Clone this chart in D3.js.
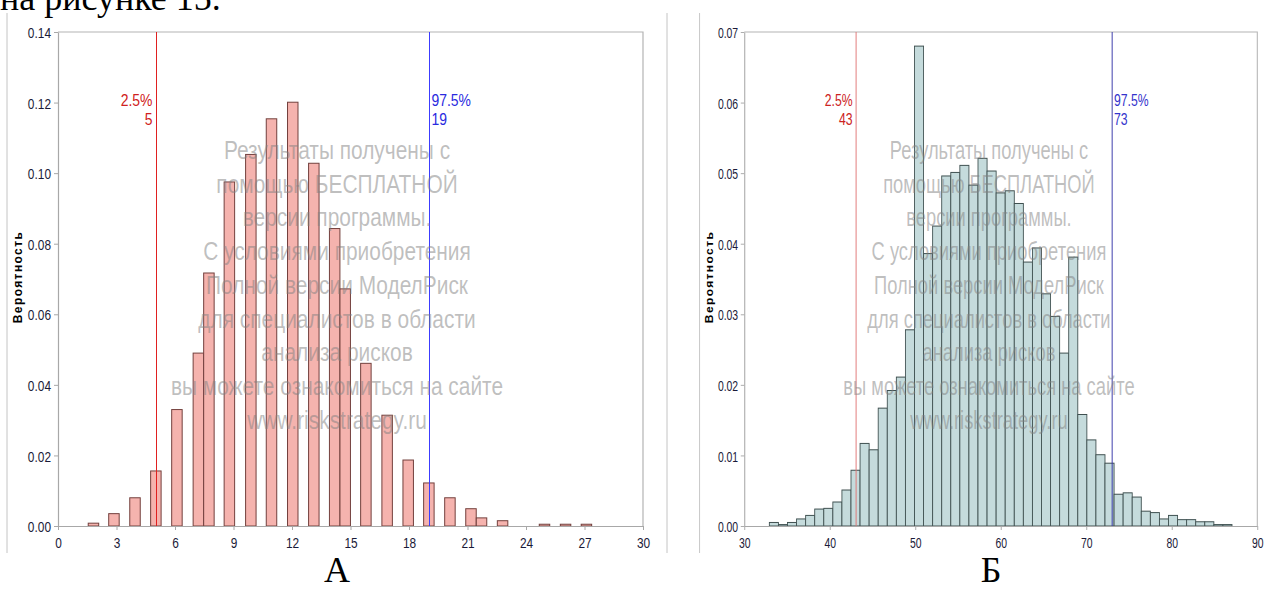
<!DOCTYPE html>
<html>
<head>
<meta charset="utf-8">
<script src="https://cdn.jsdelivr.net/npm/d3@7"></script>
<style>
  body { margin: 0; background: #fff; }
  svg { display: block; }
  .narrow { font-family: "Liberation Sans", Arial, sans-serif; }
  .serif { font-family: "Liberation Serif", "Times New Roman", serif; }
</style>
</head>
<body>
<svg id="fig" width="1269" height="590"></svg>
<script>
// ---- Panel А: discrete outcome, histogram bins (lower edges) and bin probabilities
const aBinLo = [1.55, 2.60, 3.68, 4.75, 5.83, 6.93, 7.47, 8.52, 9.62, 10.68, 11.77, 12.85,
                13.92, 14.46, 15.52, 16.61, 17.69, 18.75, 19.83, 20.91, 21.45, 22.53,
                24.68, 25.76, 26.83];
const aProb  = [0.0008, 0.0035, 0.0080, 0.0156, 0.0330, 0.0490, 0.0717, 0.0975, 0.1053,
                0.1154, 0.1201, 0.1028, 0.0843, 0.0672, 0.0461, 0.0314, 0.0187, 0.0122,
                0.0080, 0.0049, 0.0023, 0.0015, 0.0005, 0.0005, 0.0005];
const aBinWidth = 0.5375;
const aXTicks = [0, 3, 6, 9, 12, 15, 18, 21, 24, 27, 30];
const aYTicks = [0, 0.02, 0.04, 0.06, 0.08, 0.10, 0.12, 0.14];
const aPercentiles = [{ label: "2.5%", value: 5 }, { label: "97.5%", value: 19 }];

// ---- Panel Б: contiguous histogram
const bBinStart = 32.93;
const bBinWidth = 1.061;
const bProb = [0.0005, 0.0002, 0.0005, 0.0010, 0.0015, 0.0024, 0.0025, 0.0034, 0.0051, 0.0079,
               0.0117, 0.0108, 0.0167, 0.0192, 0.0211, 0.0278, 0.0680, 0.0386, 0.0425, 0.0496,
               0.0501, 0.0511, 0.0483, 0.0521, 0.0503, 0.0472, 0.0475, 0.0457, 0.0374, 0.0394,
               0.0329, 0.0297, 0.0245, 0.0381, 0.0158, 0.0122, 0.0101, 0.0089, 0.0045, 0.0047,
               0.0041, 0.0021, 0.0019, 0.0010, 0.0015, 0.0009, 0.0009, 0.0006, 0.0006, 0.0002,
               0.0002];
const bXTicks = [30, 40, 50, 60, 70, 80, 90];
const bYTicks = [0, 0.01, 0.02, 0.03, 0.04, 0.05, 0.06, 0.07];
const bPercentiles = [{ label: "2.5%", value: 43 }, { label: "97.5%", value: 73 }];

const yTitle = "Вероятность";
const watermark = [
  "Результаты получены с",
  "помощью БЕСПЛАТНОЙ",
  "версии программы.",
  "С условиями приобретения",
  "Полной версии МоделРиск",
  "для специалистов в области",
  "анализа рисков",
  "вы можете ознакомиться на сайте",
  "www.riskstrategy.ru"
];

const NARROW = 0.82;   // condensed sans face: regular sans squeezed horizontally

const svg = d3.select("#fig");
const plotTop = 32, plotBottom = 526, innerW = 585;

// place a text at (x, y) and squeeze it horizontally
function narrowAt(sel, x, y) {
  sel.attr("class", "narrow")
     .attr("transform", `translate(${x},${y}) scale(${NARROW},1)`)
     .attr("x", 0).attr("y", 0);
  return sel;
}

// running text line above the figures
svg.append("text").attr("class", "serif")
  .attr("x", 0).attr("y", 10)
  .attr("font-size", 36).attr("fill", "#000")
  .text("на рисунке 15.");

function drawPanel(cfg) {
  const g = svg.append("g")
    .attr("transform", `translate(${cfg.left},0) scale(${cfg.sx},1)`);

  const x = d3.scaleLinear().domain(cfg.xDomain).range([0, innerW]);
  const y = d3.scaleLinear().domain([0, cfg.yMax]).range([plotBottom, plotTop]);

  // side rules of the picture frame
  [-51, 609].forEach(fx => g.append("line")
    .attr("x1", fx).attr("x2", fx).attr("y1", 13).attr("y2", 553)
    .attr("stroke", "#c4c4c4").attr("stroke-width", 1));

  // plot border (top and right)
  g.append("path")
    .attr("d", `M0,${plotTop}H${innerW}V${plotBottom}`)
    .attr("fill", "none").attr("stroke", "#b4b4b4").attr("stroke-width", 1.2);

  // bars
  g.append("g").selectAll("rect").data(cfg.bins).join("rect")
    .attr("x", d => x(d.x0))
    .attr("width", d => x(d.x0 + cfg.binWidth) - x(d.x0))
    .attr("y", d => y(d.p))
    .attr("height", d => y(0) - y(d.p))
    .attr("fill", cfg.fill)
    .attr("stroke", cfg.stroke)
    .attr("stroke-width", 1);

  // axes
  const xAxis = d3.axisBottom(x).tickValues(cfg.xTicks).tickSize(4).tickSizeOuter(0)
    .tickFormat(d3.format("d"));
  const yAxis = d3.axisLeft(y).tickValues(cfg.yTicks).tickSize(4).tickSizeOuter(0)
    .tickFormat(d3.format(".2f"));

  const gx = g.append("g").attr("transform", `translate(0,${plotBottom})`).call(xAxis);
  const gy = g.append("g").call(yAxis);
  [gx, gy].forEach(ax => {
    ax.select(".domain").attr("stroke", "#a8a8a8").attr("stroke-width", 1.2);
    ax.selectAll(".tick line").attr("stroke", "#a8a8a8");
    ax.selectAll(".tick text")
      .attr("font-size", 14.5).attr("fill", "#1a1a38");
  });
  gx.selectAll(".tick text").each(function () {
    narrowAt(d3.select(this), 0, 11.5);
  });
  gy.selectAll(".tick text").each(function () {
    narrowAt(d3.select(this), -7, 1);
  });

  // y title
  g.append("text")
    .attr("transform", `translate(-40,277) rotate(-90)`)
    .attr("text-anchor", "middle").attr("dy", "0.35em")
    .attr("font-family", "Liberation Sans, Arial, sans-serif")
    .attr("font-weight", "bold").attr("font-size", 12)
    .attr("letter-spacing", 1.4)
    .attr("fill", "#000")
    .text(yTitle);

  // percentile markers
  cfg.percentiles.forEach((pc, i) => {
    const px = Math.round(x(pc.value)) + 0.5;
    const col = i === 0 ? cfg.lowLine : cfg.highLine;
    const tcol = i === 0 ? cfg.lowText : cfg.highText;
    g.append("line")
      .attr("x1", px).attr("x2", px).attr("y1", plotTop).attr("y2", plotBottom)
      .attr("stroke", col).attr("stroke-width", 1);
    const anchor = i === 0 ? "end" : "start";
    const tx = i === 0 ? px - 4 : px + 2;
    [pc.label, String(pc.value)].forEach((s, k) => {
      narrowAt(g.append("text"), tx, 106 + k * 19)
        .attr("text-anchor", anchor).attr("font-size", 17).attr("fill", tcol)
        .text(s);
    });
  });

  // watermark text over the plot
  g.append("g").selectAll("text").data(watermark).join("text")
    .each(function (d, i) { narrowAt(d3.select(this), 279, 150 + i * 33.75); })
    .attr("dy", "0.35em")
    .attr("text-anchor", "middle")
    .attr("font-size", 25.5)
    .attr("fill", "#808080")
    .attr("fill-opacity", 0.5)
    .text(d => d);

  // panel caption
  svg.append("text").attr("class", "serif")
    .attr("x", cfg.captionX).attr("y", 582)
    .attr("text-anchor", "middle")
    .attr("font-size", 36).attr("fill", "#000")
    .text(cfg.caption);
}

drawPanel({
  left: 58, sx: 1,
  xDomain: [0, 30], yMax: 0.14,
  xTicks: aXTicks, yTicks: aYTicks,
  bins: aBinLo.map((x0, i) => ({ x0, p: aProb[i] })),
  binWidth: aBinWidth,
  fill: "#f5b3ae", stroke: "#73403d",
  percentiles: aPercentiles,
  lowLine: "#e02020", lowText: "#d02020",
  highLine: "#3c3cff", highText: "#2a2ae0",
  caption: "А", captionX: 337
});

drawPanel({
  left: 744.3, sx: 513 / 585,
  xDomain: [30, 90], yMax: 0.07,
  xTicks: bXTicks, yTicks: bYTicks,
  bins: bProb.map((p, i) => ({ x0: bBinStart + i * bBinWidth, p })),
  binWidth: bBinWidth,
  fill: "#c5dbdc", stroke: "#3f5050",
  percentiles: bPercentiles,
  lowLine: "#e07474", lowText: "#cc2222",
  highLine: "#3232a8", highText: "#3333cc",
  caption: "Б", captionX: 991
});
</script>
</body>
</html>
